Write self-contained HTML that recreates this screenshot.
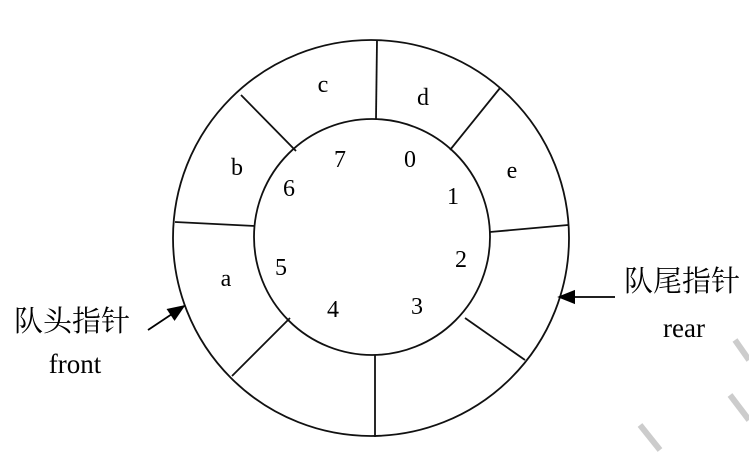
<!DOCTYPE html>
<html><head><meta charset="utf-8"><style>
html,body{margin:0;padding:0;background:#fff;}
svg{display:block;}
text{font-family:"Liberation Serif","Noto Serif CJK SC",serif;fill:#000;}
</style></head><body>
<svg width="749" height="462" viewBox="0 0 749 462">
<defs><marker id="ah" markerWidth="10" markerHeight="10" refX="9" refY="5" orient="auto"><path d="M0,1 L10,5 L0,9 Z" fill="#000"/></marker></defs>
<g stroke="#111" stroke-width="1.8" fill="none">
<circle cx="371" cy="238" r="198"/>
<circle cx="372" cy="237" r="118"/>
<line x1="377" y1="40" x2="376" y2="119"/>
<line x1="500" y1="88" x2="450" y2="150"/>
<line x1="568" y1="225" x2="490" y2="232"/>
<line x1="525" y1="360" x2="465" y2="318"/>
<line x1="375" y1="437" x2="375" y2="355"/>
<line x1="232" y1="376" x2="290" y2="318"/>
<line x1="175" y1="222" x2="255" y2="226"/>
<line x1="241" y1="95" x2="296" y2="151"/>
</g>
<g font-size="24" text-anchor="middle">
<text x="323" y="92">c</text>
<text x="423" y="105">d</text>
<text x="237" y="175">b</text>
<text x="512" y="178">e</text>
<text x="226" y="286">a</text>
<text x="340" y="167">7</text>
<text x="410" y="167">0</text>
<text x="289" y="196">6</text>
<text x="453" y="204">1</text>
<text x="281" y="275">5</text>
<text x="461" y="267">2</text>
<text x="333" y="317">4</text>
<text x="417" y="314">3</text>
</g>
<text x="14" y="331" font-size="29">队头指针</text>
<text x="75" y="373" font-size="27" text-anchor="middle">front</text>
<line x1="148" y1="330" x2="184" y2="306" stroke="#000" stroke-width="1.8" marker-end="url(#ah)"/>
<text x="624" y="291" font-size="29">队尾指针</text>
<text x="684" y="337" font-size="27" text-anchor="middle">rear</text>
<line x1="615" y1="297" x2="559" y2="297" stroke="#000" stroke-width="1.8" marker-end="url(#ah)"/>
<g stroke="#ccc" stroke-width="6">
<line x1="640" y1="425" x2="660" y2="450"/>
<line x1="730" y1="395" x2="749" y2="420"/>
<line x1="735" y1="340" x2="749" y2="360"/>
</g>
</svg>
</body></html>
